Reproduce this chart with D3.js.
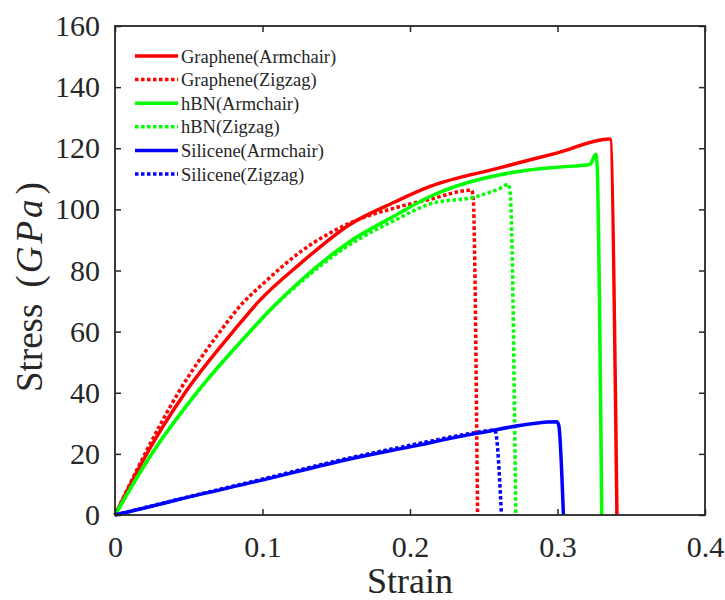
<!DOCTYPE html>
<html>
<head>
<meta charset="utf-8">
<script src="https://cdn.jsdelivr.net/npm/d3@7"></script>
<style>
  html, body { margin: 0; padding: 0; background: #fff; }
</style>
</head>
<body>
<svg id="chart" width="725" height="600"></svg>
<script>
// Stress–strain curves (strain, stress in GPa)
const grapheneArmStrain = [0, 0.0215, 0.0475, 0.080, 0.0983, 0.125, 0.159, 0.19, 0.2136, 0.26, 0.30, 0.3356, 0.3403];
const grapheneArmStress = [0, 20, 40, 60, 70.3, 82, 95, 102.5, 107.5, 113.5, 118.5, 123, 0];

const grapheneZigStrain = [0, 0.0203, 0.0429, 0.0712, 0.0859, 0.100, 0.1254, 0.159, 0.19, 0.2136, 0.2418, 0.2428, 0.2458];
const grapheneZigStress = [0, 20, 40, 60, 69, 75.5, 86, 95.5, 100.5, 103.3, 106.3, 104, 0];

const hbnArmStrain = [0, 0.0249, 0.0554, 0.0915, 0.105, 0.1254, 0.1593, 0.19, 0.2136, 0.2746, 0.30, 0.322, 0.326, 0.3268, 0.330];
const hbnArmStress = [0, 20, 40, 60, 67, 76.5, 89.5, 98, 104.2, 112.5, 113.8, 114.7, 118, 115, 0];

const hbnZigStrain = [0, 0.0249, 0.0554, 0.0915, 0.105, 0.1254, 0.1593, 0.19, 0.2136, 0.2452, 0.261, 0.2667, 0.268, 0.2717];
const hbnZigStress = [0, 20, 40, 60, 67, 76, 88.5, 96.5, 101.8, 104.2, 106.9, 108.2, 105, 0];

const siliceneArmStrain = [0, 0.0192, 0.0418, 0.1005, 0.1593, 0.2, 0.2452, 0.2994, 0.3008, 0.304];
const siliceneArmStress = [0, 2.2, 4.9, 11.5, 18.3, 22.3, 26.7, 30.5, 29.5, 0];

const siliceneZigStrain = [0, 0.0192, 0.0418, 0.1005, 0.1593, 0.2, 0.2452, 0.2576, 0.2585, 0.262];
const siliceneZigStress = [0, 2.3, 5.0, 11.8, 18.7, 22.8, 27, 27.8, 26, 0];

const seriesNames = ["Graphene(Armchair)", "Graphene(Zigzag)", "hBN(Armchair)", "hBN(Zigzag)", "Silicene(Armchair)", "Silicene(Zigzag)"];
const seriesColors = ["#ff0000", "#ff0000", "#00ff00", "#00ff00", "#0000ff", "#0000ff"];
const seriesDotted = [false, true, false, true, false, true];
const seriesStrain = [grapheneArmStrain, grapheneZigStrain, hbnArmStrain, hbnZigStrain, siliceneArmStrain, siliceneZigStrain];
const seriesStress = [grapheneArmStress, grapheneZigStress, hbnArmStress, hbnZigStress, siliceneArmStress, siliceneZigStress];

const xTicks = [0, 0.1, 0.2, 0.3, 0.4];
const xTickLabels = ["0", "0.1", "0.2", "0.3", "0.4"];
const yTicks = [0, 20, 40, 60, 80, 100, 120, 140, 160];

const serifFont = "'Liberation Serif', Tinos, 'DejaVu Serif', serif";

const svg = d3.select("#chart");
const plotLeft = 115, plotRight = 705, plotTop = 26, plotBottom = 515;

const x = d3.scaleLinear().domain([0, 0.4]).range([plotLeft, plotRight]);
const y = d3.scaleLinear().domain([0, 160]).range([plotBottom, plotTop]);

const axisColor = "#262626";

// Curves
const line = d3.line()
  .x(d => x(d[0]))
  .y(d => y(d[1]))
  .curve(d3.curveMonotoneX);

const plot = svg.append("g");
seriesNames.forEach((name, i) => {
  const pts = seriesStrain[i].map((s, k) => [s, seriesStress[i][k]]);
  plot.append("path")
    .attr("d", line(pts))
    .attr("fill", "none")
    .attr("stroke", seriesColors[i])
    .attr("stroke-width", 3.5)
    .attr("stroke-linejoin", "round")
    .attr("stroke-dasharray", seriesDotted[i] ? "3.5,2.5" : null);
});

// Axes (ticks pointing inward, mirrored on top/right)
const xAxis = d3.axisBottom(x).tickValues(xTicks).tickFormat((d, i) => xTickLabels[i])
  .tickSizeInner(-6).tickSizeOuter(0).tickPadding(21);
const yAxis = d3.axisLeft(y).tickValues(yTicks).tickFormat(d3.format("d"))
  .tickSizeInner(-6).tickSizeOuter(0).tickPadding(15);

const gx = svg.append("g").attr("transform", `translate(0,${plotBottom})`).call(xAxis);
const gy = svg.append("g").attr("transform", `translate(${plotLeft},0)`).call(yAxis);
svg.append("g").attr("transform", `translate(0,${plotTop})`)
  .call(d3.axisTop(x).tickValues(xTicks).tickFormat("").tickSizeInner(-6).tickSizeOuter(0));
svg.append("g").attr("transform", `translate(${plotRight},0)`)
  .call(d3.axisRight(y).tickValues(yTicks).tickFormat("").tickSizeInner(-6).tickSizeOuter(0));

svg.selectAll(".domain").remove();
svg.selectAll(".tick line").attr("stroke", axisColor).attr("stroke-width", 1.5);
[gx, gy].forEach(g => {
  g.attr("font-family", serifFont).attr("font-size", 30);
  g.selectAll(".tick text")
    .attr("font-family", serifFont)
    .attr("font-size", 30)
    .attr("fill", axisColor);
});

svg.append("rect")
  .attr("x", plotLeft).attr("y", plotTop)
  .attr("width", plotRight - plotLeft).attr("height", plotBottom - plotTop)
  .attr("fill", "none").attr("stroke", axisColor).attr("stroke-width", 1.8);

// Axis titles
svg.append("text")
  .attr("x", 410).attr("y", 593)
  .attr("text-anchor", "middle")
  .attr("font-family", serifFont)
  .attr("font-size", 36)
  .attr("fill", axisColor)
  .text("Strain");

const yTitle = svg.append("text")
  .attr("transform", "translate(42,392) rotate(-90)")
  .attr("text-anchor", "start")
  .attr("font-family", serifFont)
  .attr("font-size", 37)
  .attr("fill", axisColor);
yTitle.append("tspan").text("Stress");
yTitle.append("tspan").attr("dx", 16).text("(");
yTitle.append("tspan").attr("dx", 2).attr("font-style", "italic").attr("letter-spacing", 3).text("GPa");
yTitle.append("tspan").attr("dx", 2).text(")");

// Legend
const legend = svg.append("g");
seriesNames.forEach((name, i) => {
  const ly = 56 + i * 23.6;
  legend.append("line")
    .attr("x1", 135).attr("x2", 178)
    .attr("y1", ly).attr("y2", ly)
    .attr("stroke", seriesColors[i])
    .attr("stroke-width", 3.5)
    .attr("stroke-dasharray", seriesDotted[i] ? "3.5,2.5" : null);
  legend.append("text")
    .attr("x", 181).attr("y", ly + 6.5)
    .attr("font-family", serifFont)
    .attr("font-size", 18.5)
    .attr("fill", axisColor)
    .text(name);
});
</script>
</body>
</html>
